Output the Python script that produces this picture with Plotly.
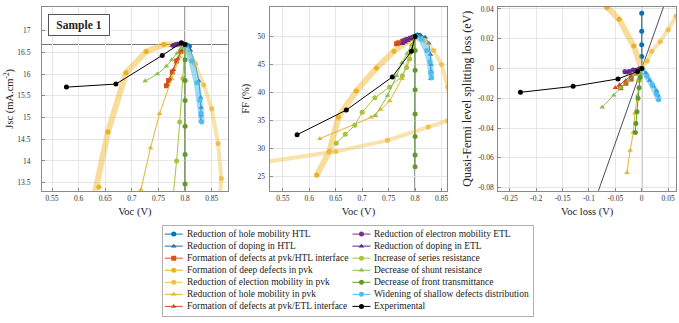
import plotly.graph_objects as go

# ---------------- reference values ----------------
VOC_REF = 0.80
JSC_REF = 16.68
FF_REF = 50.0

# ---------------- legend / series meta ----------------
NAMES = [
    "Reduction of hole mobility HTL",
    "Reduction of doping in HTL",
    "Formation of defects at pvk/HTL interface",
    "Formation of deep defects in pvk",
    "Reduction of election mobility in pvk",
    "Reduction of hole mobility in pvk",
    "Formation of defects at pvk/ETL interface",
    "Reduction of electron mobility ETL",
    "Reduction of doping in ETL",
    "Increase of series resistance",
    "Decrease of shunt resistance",
    "Decrease of front transmittance",
    "Widening of shallow defects distribution",
    "Experimental",
]

# ---------------- data ----------------
# 1 hole mobility HTL
s1_voc = [0.800, 0.802, 0.805, 0.808]
s1_jsc = [16.68, 16.67, 16.66, 16.64]
s1_ff = [50.0, 50.2, 50.3, 50.2]
s1_dv = [0.0, 0.0, 0.0, 0.0, 0.0]
s1_dq = [0.0, 0.008, 0.016, 0.025, 0.037]
# 2 doping HTL
s2_voc = [0.800, 0.810, 0.819, 0.826, 0.829, 0.830, 0.830, 0.830]
s2_jsc = [16.68, 16.55, 16.25, 15.84, 15.46, 15.23, 15.05, 14.92]
s2_ff = [50.0, 50.3, 49.9, 48.8, 46.8, 45.0, 43.8, 42.5]
s2_dv = [0.0, 0.008, 0.015, 0.022, 0.028, 0.031, 0.032]
s2_dq = [0.0, -0.003, -0.008, -0.012, -0.015, -0.018, -0.021]
# 3 defects pvk/HTL
s3_voc = [0.800, 0.792, 0.784, 0.776, 0.769, 0.765]
s3_jsc = [16.68, 16.52, 16.30, 16.05, 15.85, 15.73]
s3_ff = [50.0, 49.7, 49.4, 49.1, 48.9, 48.7]
s3_dv = [0.0, -0.010, -0.020, -0.030, -0.040]
s3_dq = [0.0, -0.003, -0.007, -0.010, -0.013]
# 4 deep defects in pvk
s4_voc = [0.800, 0.760, 0.727, 0.689, 0.655, 0.638, 0.614]
s4_jsc = [16.68, 16.68, 16.52, 16.03, 14.67, 13.40, 12.30]
s4_ff = [50.0, 47.4, 44.4, 40.3, 35.6, 29.5, 25.3]
s4_dv = [0.0, -0.015, -0.043, -0.066, -0.090]
s4_dq = [0.0, 0.015, 0.033, 0.041, 0.050]
# 5 electron mobility in pvk
s5_voc = [0.800, 0.818, 0.835, 0.850, 0.862, 0.868, 0.862, 0.825, 0.748, 0.650, 0.520]
s5_jsc = [16.68, 16.25, 15.75, 15.20, 14.40, 13.60, 12.50, 11.50, 10.50, 9.50, 8.50]
s5_ff = [50.0, 49.3, 47.5, 45.0, 41.0, 37.0, 35.0, 33.9, 31.5, 29.5, 27.7]
s5_dv = [0.0, 0.010, 0.019, 0.035, 0.050, 0.065]
s5_dq = [0.0, 0.005, 0.0115, 0.018, 0.026, 0.035]
# 6 hole mobility in pvk
s6_voc = [0.800, 0.790, 0.775, 0.752, 0.735, 0.717, 0.620]
s6_jsc = [16.68, 16.40, 15.90, 15.09, 14.30, 13.34, 11.00]
s6_ff = [50.0, 47.0, 42.5, 38.5, 37.0, 35.6, 31.8]
s6_dv = [0.0, -0.004, -0.008, -0.013, -0.016, -0.022, -0.028]
s6_dq = [0.0, -0.008, -0.018, -0.030, -0.043, -0.055, -0.070]
# 7 defects pvk/ETL
s7_voc = [0.800, 0.793, 0.786, 0.778, 0.771, 0.766]
s7_jsc = [16.68, 16.55, 16.35, 16.10, 15.88, 15.76]
s7_ff = [50.0, 49.6, 49.3, 49.0, 48.8, 48.6]
s7_dv = [0.0, -0.010, -0.020, -0.030, -0.042, -0.050]
s7_dq = [0.0, -0.002, -0.005, -0.008, -0.011, -0.013]
# 8 electron mobility ETL
s8_voc = [0.800, 0.795, 0.790, 0.784, 0.778]
s8_jsc = [16.68, 16.69, 16.69, 16.68, 16.66]
s8_ff = [50.0, 49.9, 49.7, 49.5, 49.3]
s8_dv = [0.0, -0.008, -0.016, -0.024, -0.032]
s8_dq = [0.0, -0.001, -0.001, -0.002, -0.002]
# 9 doping ETL
s9_voc = [0.800, 0.796, 0.791, 0.786, 0.781, 0.776]
s9_jsc = [16.68, 16.70, 16.70, 16.69, 16.68, 16.66]
s9_ff = [50.0, 49.8, 49.6, 49.3, 49.0, 48.7]
s9_dv = [0.0, -0.006, -0.012, -0.018, -0.024, -0.030]
s9_dq = [0.0, 0.0, -0.001, -0.001, -0.002, -0.003]
# 10 series resistance
s10_voc = [0.800, 0.796, 0.790, 0.784, 0.776, 0.752, 0.724, 0.700, 0.686, 0.668, 0.651]
s10_jsc = [16.68, 15.90, 14.90, 14.00, 13.00, 12.20, 11.50, 11.00, 10.60, 10.20, 9.80]
s10_ff = [50.0, 48.0, 46.0, 44.5, 43.0, 41.0, 39.1, 36.5, 34.2, 32.6, 31.0]
s10_dv = [0.0, -0.003, -0.006]
s10_dq = [0.0, -0.004, -0.008]
# 11 shunt resistance
s11_voc = [0.800, 0.793, 0.785, 0.775, 0.765, 0.748, 0.725]
s11_jsc = [16.68, 16.60, 16.48, 16.33, 16.18, 16.00, 15.84]
s11_ff = [50.0, 48.5, 47.0, 45.3, 43.0, 39.5, 35.9]
s11_dv = [0.0, -0.010, -0.025, -0.040, -0.053, -0.075]
s11_dq = [0.0, -0.003, -0.008, -0.013, -0.018, -0.026]
# 12 front transmittance
s12_voc = [0.800, 0.800, 0.800, 0.800, 0.800, 0.800, 0.800, 0.800]
s12_jsc = [16.68, 16.33, 15.85, 15.39, 14.80, 14.15, 13.47, 12.80]
s12_ff = [50.0, 47.5, 44.0, 40.5, 36.2, 32.2, 28.9, 26.8]
s12_dv = [0.0, -0.003, -0.005, -0.007, -0.009, -0.011, -0.012]
s12_dq = [0.0, -0.006, -0.013, -0.020, -0.029, -0.037, -0.043]
# 13 shallow defects distribution
s13_voc = [0.800, 0.812, 0.822, 0.828, 0.830, 0.831]
s13_jsc = [16.68, 16.30, 15.80, 15.40, 15.10, 14.90]
s13_ff = [50.0, 49.5, 47.5, 45.5, 43.5, 42.6]
s13_dv = [0.0, 0.010, 0.020, 0.028, 0.032]
s13_dq = [0.0, -0.005, -0.011, -0.017, -0.021]
# 14 experimental
s14_voc = [0.800, 0.793, 0.757, 0.670, 0.577]
s14_jsc = [16.68, 16.72, 16.43, 15.77, 15.70]
s14_ff = [50.0, 47.4, 42.8, 36.9, 32.5]
s14_dv = [0.0, -0.008, -0.045, -0.130, -0.230]
s14_dq = [0.0, -0.002, -0.007, -0.012, -0.016]

DIAG = [-0.12, 0.12]  # QFLS loss = Voc loss guide

# tick labels
X12_TICKS = [0.55, 0.6, 0.65, 0.7, 0.75, 0.8, 0.85]
X12_TEXT = ["0.55", "0.6", "0.65", "0.7", "0.75", "0.8", "0.85"]
Y1_TICKS = [13.5, 14, 14.5, 15, 15.5, 16, 16.5, 17]
Y1_TEXT = ["13.5", "14", "14.5", "15", "15.5", "16", "16.5", "17"]
Y2_TICKS = [25, 30, 35, 40, 45, 50]
Y2_TEXT = ["25", "30", "35", "40", "45", "50"]
X3_TICKS = [-0.25, -0.2, -0.15, -0.1, -0.05, 0, 0.05]
X3_TEXT = ["-0.25", "-0.2", "-0.15", "-0.1", "-0.05", "0", "0.05"]
Y3_TICKS = [-0.08, -0.06, -0.04, -0.02, 0, 0.02, 0.04]
Y3_TEXT = ["-0.08", "-0.06", "-0.04", "-0.02", "0", "0.02", "0.04"]

SERIES = [
    (s1_voc, s1_jsc, s1_ff, s1_dv, s1_dq),
    (s2_voc, s2_jsc, s2_ff, s2_dv, s2_dq),
    (s3_voc, s3_jsc, s3_ff, s3_dv, s3_dq),
    (s4_voc, s4_jsc, s4_ff, s4_dv, s4_dq),
    (s5_voc, s5_jsc, s5_ff, s5_dv, s5_dq),
    (s6_voc, s6_jsc, s6_ff, s6_dv, s6_dq),
    (s7_voc, s7_jsc, s7_ff, s7_dv, s7_dq),
    (s8_voc, s8_jsc, s8_ff, s8_dv, s8_dq),
    (s9_voc, s9_jsc, s9_ff, s9_dv, s9_dq),
    (s10_voc, s10_jsc, s10_ff, s10_dv, s10_dq),
    (s11_voc, s11_jsc, s11_ff, s11_dv, s11_dq),
    (s12_voc, s12_jsc, s12_ff, s12_dv, s12_dq),
    (s13_voc, s13_jsc, s13_ff, s13_dv, s13_dq),
    (s14_voc, s14_jsc, s14_ff, s14_dv, s14_dq),
]

# ---------------- styles ----------------
COLORS = ["#0072BD", "#1F6FB5", "#D95319", "#EDB120", "#F0C04A", "#E5B52A", "#C8501E",
          "#7E2F8E", "#5E2A84", "#A9C23F", "#8DBE4E", "#5E9A2E", "#4DBEEE", "#000000"]
THICK_RGBA = {3: "rgba(237,177,32,0.45)", 4: "rgba(240,192,74,0.45)", 12: "rgba(77,190,238,0.55)"}
THICK_W = {3: 6, 4: 4, 12: 6}
SYMBOLS = ["circle", "triangle-up", "square", "circle", "circle", "triangle-up", "triangle-up",
           "circle", "triangle-up", "circle", "triangle-up", "circle", "circle", "circle"]

FONT = "Liberation Serif"

fig = go.Figure()

# guide line in panel 3
fig.add_trace(go.Scatter(x=DIAG, y=DIAG, mode="lines", line=dict(color="#4b4b6b", width=1),
                         xaxis="x3", yaxis="y3", showlegend=False, hoverinfo="skip"))

for i, (voc, jsc, ff, dv, dq) in enumerate(SERIES):
    col = COLORS[i]
    sym = SYMBOLS[i]
    panels = [("x", "y", voc, jsc), ("x2", "y2", voc, ff), ("x3", "y3", dv, dq)]
    for xa, ya, xs, ys in panels:
        if i in THICK_RGBA:
            fig.add_trace(go.Scatter(x=xs, y=ys, mode="lines",
                                     line=dict(color=THICK_RGBA[i], width=THICK_W[i]),
                                     xaxis=xa, yaxis=ya, showlegend=False, hoverinfo="skip"))
            fig.add_trace(go.Scatter(x=xs, y=ys, mode="markers",
                                     marker=dict(color=col, size=5, symbol=sym),
                                     xaxis=xa, yaxis=ya, showlegend=False, name=NAMES[i]))
        else:
            fig.add_trace(go.Scatter(x=xs, y=ys, mode="lines+markers",
                                     line=dict(color=col, width=1),
                                     marker=dict(color=col, size=5, symbol=sym),
                                     xaxis=xa, yaxis=ya, showlegend=False, name=NAMES[i]))

# ---------------- manual legend (two columns, in its own axes) ----------------
ROW0, ROWSTEP = 8.0, 12.2
COL_X = [2.0, 190.0]
for i, name in enumerate(NAMES):
    col_i = 0 if i < 7 else 1
    row = i % 7
    yy = ROW0 + ROWSTEP * row
    x0 = COL_X[col_i]
    fig.add_trace(go.Scatter(x=[x0, x0 + 18], y=[yy, yy], mode="lines",
                             line=dict(color=COLORS[i], width=1),
                             xaxis="x4", yaxis="y4", showlegend=False, hoverinfo="skip"))
    fig.add_trace(go.Scatter(x=[x0 + 9], y=[yy], mode="markers",
                             marker=dict(color=COLORS[i], size=5, symbol=SYMBOLS[i]),
                             xaxis="x4", yaxis="y4", showlegend=False, hoverinfo="skip"))
    fig.add_annotation(x=x0 + 20, y=yy, xref="x4", yref="y4", text=name, showarrow=False,
                       xanchor="left", yanchor="middle",
                       font=dict(family=FONT, size=9.5, color="#222"))

# ---------------- axes ----------------
YDOM = [1 - 191 / 323, 1 - 5 / 323]
common = dict(showline=True, mirror=True, linecolor="#8a8a8a", linewidth=1,
              showgrid=True, gridcolor="#e6e6e6", gridwidth=1, zeroline=False,
              ticks="inside", ticklen=3, tickcolor="#8a8a8a",
              tickfont=dict(family=FONT, size=7.5, color="#333"))
tfont = dict(family=FONT, size=10.5, color="#222")

fig.update_layout(
    width=679, height=323, margin=dict(l=0, r=0, t=0, b=0),
    paper_bgcolor="white", plot_bgcolor="white", showlegend=False,
    xaxis=dict(domain=[42 / 679, 228 / 679], range=[0.531, 0.880], anchor="y",
               tickvals=X12_TICKS, ticktext=X12_TEXT,
               title=dict(text="Voc (V)", font=tfont, standoff=6), **common),
    yaxis=dict(domain=YDOM, range=[13.318, 17.545], anchor="x",
               tickvals=Y1_TICKS, ticktext=Y1_TEXT, ticklabelstandoff=9,
               title=dict(text="Jsc (mA.cm<sup>-2</sup>)", font=tfont, standoff=1), **common),
    xaxis2=dict(domain=[270 / 679, 448 / 679], range=[0.525, 0.861], anchor="y2",
                tickvals=X12_TICKS, ticktext=X12_TEXT,
                title=dict(text="Voc (V)", font=tfont, standoff=6), **common),
    yaxis2=dict(domain=YDOM, range=[22.54, 55.28], anchor="x2",
                tickvals=Y2_TICKS, ticktext=Y2_TEXT, ticklabelstandoff=2,
                title=dict(text="FF (%)", font=tfont, standoff=5), **common),
    xaxis3=dict(domain=[499 / 679, 677 / 679], range=[-0.272, 0.065], anchor="y3",
                tickvals=X3_TICKS, ticktext=X3_TEXT, ticklabeloverflow="allow",
                title=dict(text="Voc loss (V)", font=tfont, standoff=6), **common),
    yaxis3=dict(domain=YDOM, range=[-0.082, 0.0413], anchor="x3",
                tickvals=Y3_TICKS, ticktext=Y3_TEXT, ticklabelstandoff=2,
                title=dict(text="Quasi-Fermi level splitting loss (eV)",
                           font=dict(family=FONT, size=12, color="#222"), standoff=3),
                **common),
    xaxis4=dict(domain=[163 / 679, 534 / 679], range=[0, 371], anchor="y4",
                showline=True, mirror=True, linecolor="#b0b0b0", showgrid=False,
                zeroline=False, showticklabels=False, ticks="", fixedrange=True),
    yaxis4=dict(domain=[1 - 318 / 323, 1 - 227 / 323], range=[91, 0], anchor="x4",
                showline=True, mirror=True, linecolor="#b0b0b0", showgrid=False,
                zeroline=False, showticklabels=False, ticks="", fixedrange=True),
)

# reference lines
for xa, ya, xv, yv in [("x", "y", VOC_REF, JSC_REF), ("x2", "y2", VOC_REF, FF_REF), ("x3", "y3", 0, 0)]:
    fig.add_shape(type="line", xref=xa, yref=ya + " domain", x0=xv, x1=xv, y0=0, y1=1,
                  line=dict(color="#222", width=1), layer="below")
    fig.add_shape(type="line", xref=xa + " domain", yref=ya, x0=0, x1=1, y0=yv, y1=yv,
                  line=dict(color="#777", width=1), layer="below")

# Sample label
fig.add_annotation(x=79 / 679, y=1 - 23 / 323, xref="paper", yref="paper", showarrow=False,
                   xanchor="center", yanchor="middle",
                   text="<b>Sample 1</b>", font=dict(family=FONT, size=11.5, color="#222"),
                   bordercolor="#555", borderwidth=1, borderpad=3, bgcolor="white",
                   width=54, height=14)

# remove the default page margin so the figure sits at the window origin
fig.write_html("out.html", config={"displayModeBar": False},
               post_script="document.body.style.margin='0px';")
